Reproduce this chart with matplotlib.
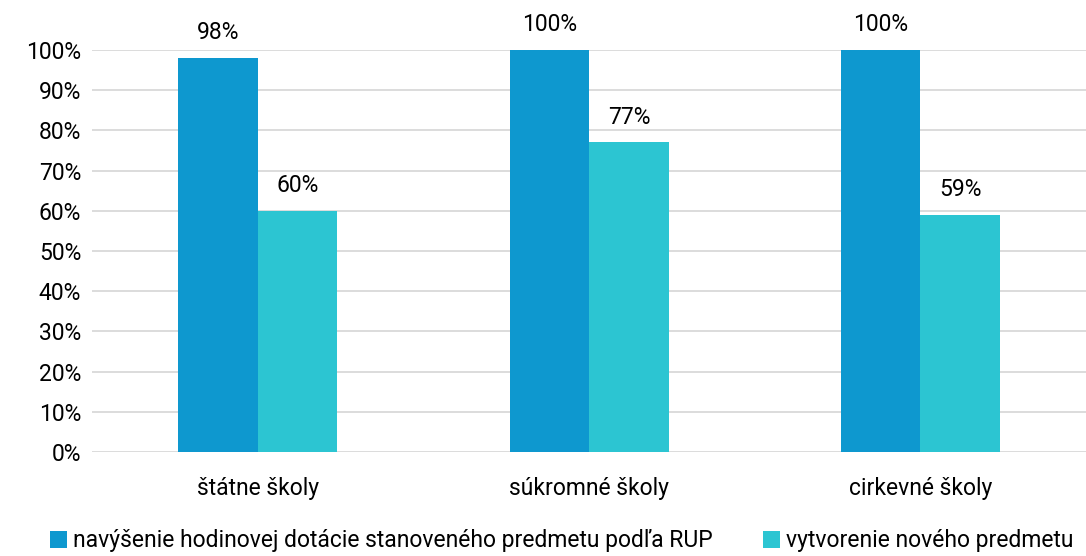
import matplotlib.pyplot as plt
import numpy as np

plt.rcParams['font.family'] = ['Roboto', 'DejaVu Sans']

# data
categories = ['štátne školy', 'súkromné školy', 'cirkevné školy']
series_names = ['navýšenie hodinovej dotácie stanoveného predmetu podľa RUP',
                'vytvorenie nového predmetu']
navysenie = [98, 100, 100]
novy_predmet = [60, 77, 59]
colors = ['#0E98CF', '#2CC5D2']

fig = plt.figure(figsize=(10.86, 5.56), dpi=100)
ax = fig.add_axes([0.085, 0.187, 0.915, 0.723])

x = np.arange(len(categories))
w = 0.24
for i, (vals, name) in enumerate(zip([navysenie, novy_predmet], series_names)):
    pos = x + (i - 0.5) * w
    bars = ax.bar(pos, vals, width=w, color=colors[i], label=name, zorder=3)
    for b, v in zip(bars, vals):
        ax.annotate(f'{v}%', (b.get_x() + b.get_width() / 2, v),
                    xytext=(0, 10), textcoords='offset points',
                    ha='center', va='bottom', fontsize=16.5, color='#000000')

ax.set_xlim(-0.5, len(categories) - 0.5)
ax.set_ylim(0, 100)
ax.set_yticks(np.arange(0, 101, 10))
ax.set_yticklabels([f'{t}%' for t in range(0, 101, 10)])
ax.set_xticks(x)
ax.set_xticklabels(categories)
ax.tick_params(axis='both', length=0, labelsize=16.5, colors='#000000')
ax.tick_params(axis='x', pad=18)
ax.tick_params(axis='y', pad=8)
ax.yaxis.grid(True, color='#d9d9d9', linewidth=1.3, zorder=0)
for s in ax.spines.values():
    s.set_visible(False)

fig.legend(*ax.get_legend_handles_labels(), loc='center',
           bbox_to_anchor=(0.517, 1 - 541 / 556), ncol=2, frameon=False,
           fontsize=16.5, handlelength=0.75, handleheight=0.75, handletextpad=0.25,
           columnspacing=2.2, borderaxespad=0, borderpad=0)

fig.savefig('out.png', dpi=100)
